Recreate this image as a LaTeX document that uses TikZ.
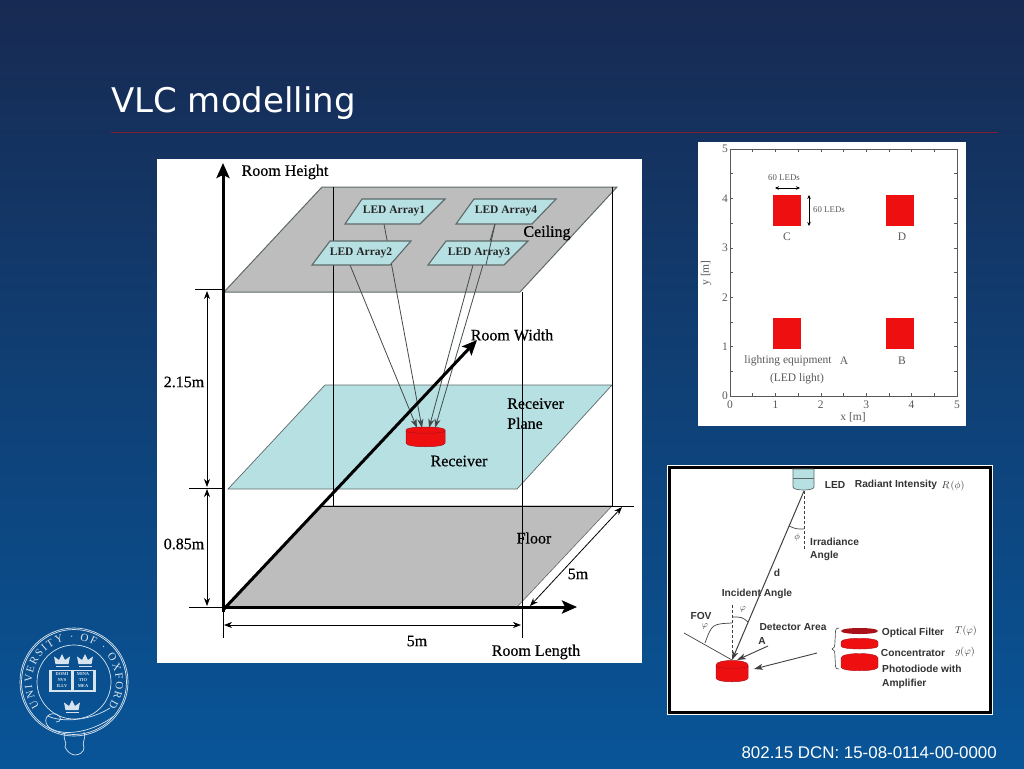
\documentclass[tikz,border=0pt]{standalone}
\usepackage{fontspec}
\usepackage{amsmath}
\setmainfont{Liberation Serif}
\setsansfont{Liberation Sans}
\newfontfamily\titlefont{DejaVu Sans}
\newfontfamily\roomfont[FakeBold=0.5]{Liberation Serif}
\usetikzlibrary{arrows.meta,decorations.text}
\definecolor{slidetop}{RGB}{23,42,82}
\definecolor{slidebot}{RGB}{8,85,152}
\definecolor{rulered}{RGB}{125,30,50}
\definecolor{planeblue}{RGB}{183,224,226}
\definecolor{slabgray}{RGB}{189,189,189}
\definecolor{edgegray}{RGB}{95,105,105}
\definecolor{ledred}{RGB}{238,16,16}
\definecolor{darkred}{RGB}{170,16,24}
\definecolor{crest}{RGB}{215,228,240}
\tikzset{
    slab/.style={fill=slabgray, draw=edgegray, line width=1pt},
    plane/.style={fill=planeblue, draw=edgegray, line width=0.7pt},
    ledarray/.style={fill=planeblue, draw=edgegray, line width=1.1pt},
    guide/.style={draw=black, line width=0.6pt},
    ray/.style={draw=edgegray!70!black, line width=0.8pt},
    rayhead/.style={ray, -{Stealth[length=9pt,width=6pt,inset=2.5pt]}},
    axisline/.style={draw=black, line width=3pt, -{Stealth[length=15pt,width=13pt,inset=3pt]}},
    dimline/.style={draw=black, line width=0.8pt, {Stealth[length=8pt,width=6pt,inset=2.5pt]}-{Stealth[length=8pt,width=6pt,inset=2.5pt]}},
    lab/.style={font=\roomfont\fontsize{16}{18}\selectfont, text=black, inner sep=0pt},
    arraylab/.style={font=\fontsize{11.5}{13}\selectfont\bfseries, text=black!85, inner sep=0pt},
    plotlab/.style={font=\fontsize{11.5}{13}\selectfont, text=black!65, inner sep=0pt},
    ledlab/.style={font=\sffamily\bfseries\fontsize{10.2}{12}\selectfont, text=black!80, inner sep=0pt},
    crestline/.style={draw=crest, line width=0.7pt},
    crown/.pic={\fill[crest] (-6.5,5) -- (-8,-2.5) -- (-3,1) -- (0,-5) -- (3,1) -- (8,-2.5) -- (6.5,5) -- cycle;
                \fill[crest] (-6.5,6.5) rectangle (6.5,8);}
}
\begin{document}
\begin{tikzpicture}[x=1pt,y=-1pt]
    \useasboundingbox (0,0) rectangle (1024,768);
    \shade[top color=slidetop, bottom color=slidebot] (0,0) rectangle (1024,768);
    \node[anchor=west, text=white, font=\titlefont\fontsize{34}{36}\selectfont, inner sep=0pt] (title) at (111,103) {VLC modelling};
    \draw[rulered, line width=1pt] (111,132) -- (998,132);
    \node[anchor=east, text=white, font=\sffamily\fontsize{16.9}{18}\selectfont, inner sep=0pt] (dcn) at (997,753) {802.15 DCN: 15-08-0114-00-0000};

    % room panel
    \fill[white] (157,159) rectangle (642,663);
    \path[slab] (322,187) -- (617,187) -- (520,292) -- (224,292) -- cycle;
    \path[slab, line width=0.6pt] (322,506) -- (612,506) -- (517,607) -- (225,607) -- cycle;
    \path[plane] (325,385) -- (612,385) -- (517,489) -- (228,489) -- cycle;
    \draw[guide] (333,187) -- (333,506);
    \draw[guide] (612,187) -- (612,506);
    \draw[guide] (522,292) -- (522,638);
    \draw[guide] (322,506) -- (634,506);
    \draw[guide] (195,289) -- (224,289);
    \draw[guide] (189,488) -- (224,488);
    \draw[guide] (189,607) -- (224,607);
    \draw[guide] (223,607) -- (223,638);
    % rays
    \coordinate (a1) at (384,224);
    \coordinate (a2) at (350,265);
    \coordinate (a3) at (473,265);
    \coordinate (a4) at (495,224);
    \coordinate (r1) at (422,428);
    \coordinate (r2) at (417,428);
    \coordinate (r3) at (429,428);
    \coordinate (r4) at (435,428);
    \foreach \i in {1,2,3,4}
        \draw[rayhead] (a\i) -- (r\i);
    % led arrays
    \path[ledarray] (362,199) -- (445,199) -- (420,224) -- (345,224) -- cycle;
    \path[ledarray] (474,199) -- (556,199) -- (532,224) -- (456,224) -- cycle;
    \path[ledarray] (330,241) -- (411,241) -- (390,265) -- (312,265) -- cycle;
    \path[ledarray] (446,241) -- (528,241) -- (504,265) -- (428,265) -- cycle;
    \draw[ray] (495,224) -- (486,265);
    \node[arraylab] (arr1) at (394,211) {LED Array1};
    \node[arraylab] (arr4) at (506,211) {LED Array4};
    \node[arraylab] (arr2) at (361,253) {LED Array2};
    \node[arraylab] (arr3) at (479,253) {LED Array3};
    % receiver
    \fill[ledred, draw=darkred, line width=0.5pt] (406,430) -- (406,443) .. controls (406,448) and (445,448) .. (445,443) -- (445,430) .. controls (445,426) and (406,426) .. (406,430) -- cycle;
    \draw[darkred, line width=0.5pt] (406,431) .. controls (406,434) and (445,434) .. (445,431);
    % axes
    \draw[axisline] (223,612) -- (223,163);
    \draw[axisline] (223,610) -- (477,340);
    \draw[axisline] (223,607) -- (577,607);
    \draw[dimline] (207,291) -- (207,487);
    \draw[dimline] (207,489) -- (207,606);
    \draw[dimline] (224,625) -- (521,625);
    \draw[dimline] (530,606) -- (622,507);
    \node[lab] (hgt) at (285,172) {Room Height};
    \node[lab] (wid) at (512,335) {Room Width};
    \node[lab] (len) at (536,652) {Room Length};
    \node[lab] (ceil) at (547,233) {Ceiling};
    \node[lab, align=left, anchor=north west, font=\roomfont\fontsize{16}{20}\selectfont] (plane) at (507,398) {Receiver\\Plane};
    \node[lab] (rcv) at (459,461) {Receiver};
    \node[lab] (flr) at (534,538) {Floor};
    \node[lab] (d1) at (184,382) {2.15m};
    \node[lab] (d2) at (184,544) {0.85m};
    \node[lab] (d3) at (417,641) {5m};
    \node[lab] (d4) at (578,574) {5m};

    % layout plot
    \fill[white] (698,142) rectangle (966,426);
    \draw[black!65, line width=1pt] (730,149) rectangle (957,396);
    \foreach \t in {0,0.5,...,5.01} {
        \draw[black!65, line width=0.5pt] ({730+45.4*\t},396) -- ({730+45.4*\t},393);
        \draw[black!65, line width=0.5pt] ({730+45.4*\t},149) -- ({730+45.4*\t},152);
        \draw[black!65, line width=0.5pt] (730,{396-49.4*\t}) -- (733,{396-49.4*\t});
        \draw[black!65, line width=0.5pt] (957,{396-49.4*\t}) -- (954,{396-49.4*\t});
    }
    \foreach \t in {0,1,2,3,4,5} {
        \node[plotlab] (xt\t) at ({730+45.4*\t},405) {\t};
        \node[plotlab] (yt\t) at (725,{396-49.4*\t}) {\t};
    }
    \foreach \x/\y in {773/195,886/195,773/318,886/318}
        \fill[ledred] (\x,\y) rectangle ++(28,31);
    \node[plotlab] (cC) at (787,237) {C};
    \node[plotlab] (cD) at (902,237) {D};
    \node[plotlab] (cB) at (902,361) {B};
    \node[plotlab] (cA) at (844,361) {A};
    \node[plotlab] (equip) at (788,361) {lighting equipment};
    \node[plotlab] (ledl) at (797,379) {(LED light)};
    \node[plotlab] (xax) at (853,417) {x [m]};
    \node[plotlab, rotate=90] (yax) at (706,273) {y [m]};
    \node[plotlab, font=\fontsize{8.8}{10}\selectfont] (w60) at (784,178) {60 LEDs};
    \node[plotlab, font=\fontsize{8.8}{10}\selectfont] (h60) at (829,210) {60 LEDs};
    \draw[black, line width=0.5pt, {Stealth[length=4pt,width=3.5pt]}-{Stealth[length=4pt,width=3.5pt]}] (775,188) -- (800,188);
    \draw[black, line width=0.5pt, {Stealth[length=4pt,width=3.5pt]}-{Stealth[length=4pt,width=3.5pt]}] (809,195) -- (809,226);

    % link geometry panel
    \fill[white] (667,465) rectangle (993,715);
    \draw[black, line width=3pt] (669.5,467.5) rectangle (990.5,712.5);
    \fill[planeblue, draw=edgegray, line width=0.7pt] (793,469) -- (814,469) -- (814,487) .. controls (814,491) and (793,491) .. (793,487) -- cycle;
    \draw[edgegray, line width=0.8pt] (793,478) -- (814,478);
    \coordinate (ledtip) at (804,491);
    \coordinate (pdtop) at (732,660);
    \draw[rayhead, line width=1pt, draw=black!75] (ledtip) -- (pdtop);
    \draw[black!75, densely dashed, line width=0.7pt] (ledtip) -- (804,550);
    \draw[black!75, densely dashed, line width=0.7pt] (732,605) -- (pdtop);
    \draw[black!75, line width=0.7pt] (789,526) .. controls (796,529) .. (804,529);
    \draw[black!75, line width=0.7pt] (732,617) .. controls (742,617) .. (748,622);
    \draw[black!75, line width=0.7pt] (732,623) .. controls (712,624) .. (705,643);
    \draw[black!75, line width=0.7pt] (684,633) -- (pdtop);
    \draw[rayhead, line width=0.9pt, draw=black!75] (768,646) -- (737,660);
    \draw[rayhead, line width=0.9pt, draw=black!75] (817,653) -- (754,669);
    \fill[ledred, draw=darkred, line width=0.5pt] (716,665) -- (716,678) .. controls (716,683) and (748,683) .. (748,678) -- (748,665) .. controls (748,659) and (716,659) .. (716,665) -- cycle;
    \draw[darkred, line width=0.5pt] (716,666) .. controls (716,669) and (748,669) .. (748,666);
    \draw[black!70, line width=0.6pt] (839,628) .. controls (834,628) and (836,632) .. (835,640) .. controls (835,647) and (834,649) .. (832,649) .. controls (834,649) and (835,651) .. (835,658) .. controls (836,666) and (834,669) .. (839,669);
    \fill[darkred] (841,631) .. controls (841,627) and (878,627) .. (878,631) .. controls (878,635) and (841,635) .. (841,631) -- cycle;
    \fill[ledred, draw=darkred, line width=0.4pt] (841,642) .. controls (841,637) and (878,637) .. (878,642) -- (878,646) .. controls (878,650) and (841,650) .. (841,646) -- cycle;
    \fill[ledred, draw=darkred, line width=0.4pt] (841,658) .. controls (841,652) and (878,652) .. (878,658) -- (878,667) .. controls (878,672) and (841,672) .. (841,667) -- cycle;
    \node[ledlab] (led) at (835,485) {LED};
    \node[ledlab] (radi) at (896,485) {Radiant Intensity};
    \node[ledlab, font=\fontsize{10}{11}\selectfont] (rphi) at (953,486) {\(R_{\!\cdot}(\phi)\)};
    \node[ledlab, font=\fontsize{9}{10}\selectfont] (phi1) at (797,537) {\(\phi\)};
    \node[ledlab, align=left, anchor=north west, font=\sffamily\bfseries\fontsize{10.2}{13}\selectfont] (irr) at (810,538) {Irradiance\\Angle};
    \node[ledlab] (dist) at (777,573) {d};
    \node[ledlab] (inc) at (757,594) {Incident Angle};
    \node[ledlab, font=\fontsize{9}{10}\selectfont] (phi2) at (743,609) {\(\varphi\)};
    \node[ledlab] (fov) at (701,616) {FOV};
    \node[ledlab, font=\fontsize{9}{10}\selectfont] (phi3) at (705,626) {\(\varphi\)};
    \node[ledlab] (det) at (793,627) {Detector Area};
    \node[ledlab] (area) at (762,641) {A};
    \node[ledlab] (filt) at (913,633) {Optical Filter};
    \node[ledlab] (conc) at (913,653) {Concentrator};
    \node[ledlab, align=left, anchor=north west, font=\sffamily\bfseries\fontsize{10.2}{14}\selectfont] (pd) at (882,665) {Photodiode with\\Amplifier};
    \node[ledlab, font=\fontsize{10}{11}\selectfont] (tphi) at (966,631) {\(T_{\!\cdot}(\varphi)\)};
    \node[ledlab, font=\fontsize{10}{11}\selectfont] (gphi) at (965,652) {\(g(\varphi)\)};

    % crest
    \draw[crestline] (74,682) circle[radius=54];
    \draw[crestline] (74,682) circle[radius=52.5];
    \draw[crestline] (74,682) circle[radius=37];
    \path[decorate, decoration={text along path, text align={fit to path}, text={|\fontsize{11}{12}\selectfont\color{crest}|UNIVERSITY · OF · OXFORD}}] (39.6,706.1) arc[start angle=145, end angle=395, radius=42];
    \pic at (62,659) {crown};
    \pic at (85,659) {crown};
    \pic at (72,705) {crown};
    \fill[crest] (49,670) rectangle (96,692);
    \fill[slidebot!95!black] (52,671) rectangle (71,690);
    \fill[slidebot!95!black] (74,671) rectangle (93,690);
    \node[text=crest, font=\fontsize{4.5}{6}\selectfont\bfseries, align=center, inner sep=0pt] (bk1) at (62,680.5) {DOMI\\NVS\\ILLV};
    \node[text=crest, font=\fontsize{4.5}{6}\selectfont\bfseries, align=center, inner sep=0pt] (bk2) at (83,680.5) {MINA\\TIO\\MEA};
    \fill[slidebot] (48,716) .. controls (60,722) and (88,722) .. (110,708) -- (114,716) .. controls (90,734) and (62,736) .. (50,728) -- cycle;
    \draw[crestline] (48,716) .. controls (60,722) and (88,722) .. (110,708);
    \draw[crestline] (50,728) .. controls (62,736) and (90,734) .. (114,716);
    \draw[crestline] (50,728) .. controls (42,722) and (46,712) .. (56,714) .. controls (62,716) and (62,722) .. (56,722);
    \draw[crestline] (65,733) .. controls (62,740) and (68,742) .. (65,747) .. controls (67,752) and (72,755) .. (75,755) .. controls (79,755) and (84,752) .. (84,748) .. controls (81,742) and (87,738) .. (84,732);
\end{tikzpicture}
\end{document}
